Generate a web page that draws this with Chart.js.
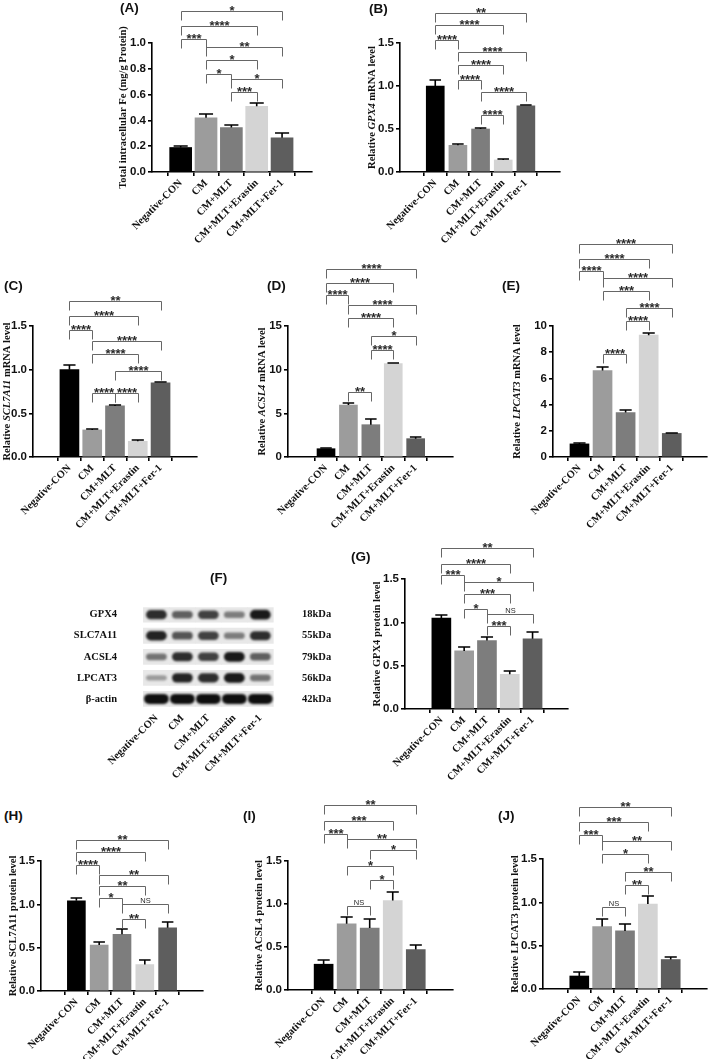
<!DOCTYPE html>
<html>
<head>
<meta charset="utf-8">
<script src="https://cdn.jsdelivr.net/npm/chart.js@4.4.1/dist/chart.umd.min.js"></script>
<style>
  body { margin: 0; background: #fff; }
  #fig { position: relative; width: 709px; height: 1059px; overflow: hidden; background: #fff; }
  #fig canvas { position: absolute; }
  .tag { position: absolute; z-index: 5; font: bold 13.5px "Liberation Sans", Arial, sans-serif; color: #111; }
</style>
</head>
<body>
<div id="fig"></div>
<script>
const groups = ["Negative-CON", "CM", "CM+MLT", "CM+MLT+Erastin", "CM+MLT+Fer-1"];
const barColors = ["#000000", "#9c9c9c", "#7d7d7d", "#d4d4d4", "#5e5e5e"];

// tick values
const feTicks = [0, 0.2, 0.4, 0.6, 0.8, 1.0];
const relTicks = [0, 0.5, 1.0, 1.5];
const acsl4Ticks = [0, 5, 10, 15];
const lpcat3Ticks = [0, 2, 4, 6, 8, 10];

// (A) total intracellular Fe
const feMean = [0.19, 0.42, 0.345, 0.51, 0.265];
const feSd = [0.012, 0.03, 0.018, 0.025, 0.035];
const feSig = [[0, 4, 1.25, "*"], [0, 3, 1.13, "****"], [0, 1, 1.03, "***"], [1, 4, 0.97, "**"],
  [1, 3, 0.87, "*"], [1, 2, 0.76, "*"], [2, 4, 0.72, "*"], [2, 3, 0.62, "***"]];

// (B) GPX4 mRNA
const gpx4Mean = [1.0, 0.31, 0.5, 0.14, 0.77];
const gpx4Sd = [0.065, 0.015, 0.015, 0.01, 0.01];
const gpx4Sig = [[0, 4, 1.85, "**"], [0, 3, 1.71, "****"], [0, 1, 1.54, "****"], [1, 4, 1.4, "****"],
  [1, 3, 1.24, "****"], [1, 2, 1.07, "****"], [2, 4, 0.93, "****"], [2, 3, 0.66, "****"]];

// (C) SCL7A11 mRNA
const slcMean = [1.0, 0.31, 0.585, 0.18, 0.85];
const slcSd = [0.05, 0.01, 0.01, 0.01, 0.01];
const slcSig = [[0, 4, 1.79, "**"], [0, 3, 1.61, "****"], [0, 1, 1.45, "****"], [1, 4, 1.33, "****"],
  [1, 3, 1.18, "****"], [2, 4, 0.98, "****"], [1, 2, 0.73, "****"], [2, 3, 0.73, "****"]];

// (D) ACSL4 mRNA
const acslMean = [0.95, 5.95, 3.7, 10.7, 2.1];
const acslSd = [0.1, 0.25, 0.6, 0.1, 0.15];
const acslSig = [[0, 4, 21.5, "****"], [0, 3, 19.9, "****"], [0, 1, 18.5, "****"], [1, 4, 17.4, "****"],
  [1, 3, 15.95, "****"], [2, 4, 13.8, "*"], [2, 3, 12.3, "****"], [1, 2, 7.5, "**"]];

// (E) LPCAT3 mRNA
const lpcMean = [1.0, 6.6, 3.4, 9.3, 1.8];
const lpcSd = [0.05, 0.3, 0.15, 0.15, 0.05];
const lpcSig = [[0, 4, 16.25, "****"], [0, 3, 15.1, "****"], [0, 1, 14.2, "****"], [1, 4, 13.65, "****"],
  [1, 3, 12.7, "***"], [2, 4, 11.4, "****"], [2, 3, 10.4, "****"], [1, 2, 7.9, "****"]];

// (G) GPX4 protein
const gpx4ProtMean = [1.05, 0.67, 0.79, 0.4, 0.81];
const gpx4ProtSd = [0.03, 0.05, 0.04, 0.04, 0.08];
const gpx4ProtSig = [[0, 4, 1.86, "**"], [0, 3, 1.67, "****"], [0, 1, 1.55, "***"], [1, 4, 1.46, "*"],
  [1, 3, 1.33, "***"], [1, 2, 1.15, "*"], [2, 4, 1.1, "NS"], [2, 3, 0.96, "***"]];

// (H) SCL7A11 protein
const slcProtMean = [1.04, 0.53, 0.655, 0.305, 0.73];
const slcProtSd = [0.03, 0.04, 0.06, 0.05, 0.065];
const slcProtSig = [[0, 4, 1.74, "**"], [0, 3, 1.6, "****"], [0, 1, 1.45, "****"], [1, 4, 1.34, "**"],
  [1, 3, 1.21, "**"], [1, 2, 1.07, "*"], [2, 4, 1.0, "NS"], [2, 3, 0.83, "**"]];

// (I) ACSL4 protein
const acslProtMean = [0.3, 0.77, 0.72, 1.04, 0.47];
const acslProtSd = [0.05, 0.08, 0.11, 0.1, 0.05];
const acslProtSig = [[0, 4, 2.15, "**"], [0, 3, 1.97, "***"], [0, 1, 1.81, "***"], [1, 4, 1.75, "**"],
  [2, 4, 1.63, "*"], [1, 3, 1.44, "*"], [2, 3, 1.28, "*"], [1, 2, 0.98, "NS"]];

// (J) LPCAT3 protein
const lpcProtMean = [0.15, 0.72, 0.67, 0.98, 0.34];
const lpcProtSd = [0.05, 0.09, 0.08, 0.09, 0.035];
const lpcProtSig = [[0, 4, 2.1, "**"], [0, 3, 1.93, "***"], [0, 1, 1.78, "***"], [1, 4, 1.71, "**"],
  [1, 3, 1.56, "*"], [2, 4, 1.35, "**"], [2, 3, 1.2, "**"], [1, 2, 0.95, "NS"]];

// (F) western blot, band strength 0..1 per lane
const blotRows = ["GPX4", "SLC7A11", "ACSL4", "LPCAT3", "β-actin"];
const blotKda = ["18kDa", "55kDa", "79kDa", "56kDa", "42kDa"];
const blotGpx4 = [0.85, 0.6, 0.75, 0.45, 0.95];
const blotSlc7a11 = [0.9, 0.65, 0.75, 0.45, 0.85];
const blotAcsl4 = [0.5, 0.85, 0.75, 0.95, 0.6];
const blotLpcat3 = [0.3, 0.9, 0.85, 0.95, 0.5];
const blotActin = [1, 1, 1, 1, 1];

const SERIF = '"Liberation Serif", "Times New Roman", serif';
const SANS = '"Liberation Sans", Arial, sans-serif';
const fig = document.getElementById("fig");

const panels = [
  { tag: "(A)", mean: feMean, sd: feSd, sig: feSig, ticks: feTicks, dec: 1,
    title: [["Total intracellular Fe (mg/g Protein)", false]],
    left: 116, top: 0, plotLeft: 152, plotRight: 312, plotTop: 43, plotBottom: 172,
    xMin: -0.5, xMax: 4.55, bar: 22, titleX: 123, xH: 75, tagX: 120, tagY: 0 },
  { tag: "(B)", mean: gpx4Mean, sd: gpx4Sd, sig: gpx4Sig, ticks: relTicks, dec: 1,
    title: [["Relative ", false], ["GPX4", true], [" mRNA level", false]],
    left: 365, top: 0, plotLeft: 400, plotRight: 560, plotTop: 43, plotBottom: 172,
    xMin: -0.85, xMax: 4.8, bar: 18, titleX: 372, xH: 75, tagX: 369, tagY: 1 },
  { tag: "(C)", mean: slcMean, sd: slcSd, sig: slcSig, ticks: relTicks, dec: 1,
    title: [["Relative ", false], ["SCL7A11", true], [" mRNA level", false]],
    left: 0, top: 240, plotLeft: 33, plotRight: 197, plotTop: 326, plotBottom: 457,
    xMin: -0.88, xMax: 4.88, bar: 19, titleX: 7, xH: 75, tagX: 4, tagY: 278 },
  { tag: "(D)", mean: acslMean, sd: acslSd, sig: acslSig, ticks: acsl4Ticks, dec: 0,
    title: [["Relative ", false], ["ACSL4", true], [" mRNA level", false]],
    left: 255, top: 240, plotLeft: 288, plotRight: 453, plotTop: 326, plotBottom: 457,
    xMin: -0.96, xMax: 4.93, bar: 18, titleX: 262, xH: 75, tagX: 267, tagY: 278 },
  { tag: "(E)", mean: lpcMean, sd: lpcSd, sig: lpcSig, ticks: lpcat3Ticks, dec: 0,
    title: [["Relative ", false], ["LPCAT3", true], [" mRNA level", false]],
    left: 510, top: 230, plotLeft: 553, plotRight: 707, plotTop: 326, plotBottom: 457,
    xMin: -0.48, xMax: 4.86, bar: 19, titleX: 517, xH: 75, tagX: 502, tagY: 278 },
  { tag: "(G)", mean: gpx4ProtMean, sd: gpx4ProtSd, sig: gpx4ProtSig, ticks: relTicks, dec: 1,
    title: [["Relative GPX4 protein level", false]],
    left: 370, top: 535, plotLeft: 405, plotRight: 568, plotTop: 579, plotBottom: 709,
    xMin: -0.88, xMax: 4.84, bar: 19, titleX: 377, xH: 75, tagX: 351, tagY: 549 },
  { tag: "(H)", mean: slcProtMean, sd: slcProtSd, sig: slcProtSig, ticks: relTicks, dec: 1,
    title: [["Relative SCL7A11 protein level", false]],
    left: 6, top: 825, plotLeft: 41, plotRight: 203, plotTop: 861, plotBottom: 991,
    xMin: -0.84, xMax: 4.84, bar: 18, titleX: 13, xH: 68, tagX: 4, tagY: 808 },
  { tag: "(I)", mean: acslProtMean, sd: acslProtSd, sig: acslProtSig, ticks: relTicks, dec: 1,
    title: [["Relative ACSL4 protein level", false]],
    left: 252, top: 793, plotLeft: 288, plotRight: 453, plotTop: 861, plotBottom: 990,
    xMin: -0.83, xMax: 4.9, bar: 19, titleX: 259, xH: 69, tagX: 243, tagY: 808 },
  { tag: "(J)", mean: lpcProtMean, sd: lpcProtSd, sig: lpcProtSig, ticks: relTicks, dec: 1,
    title: [["Relative LPCAT3 protein level", false]],
    left: 508, top: 793, plotLeft: 543, plotRight: 707, plotTop: 859, plotBottom: 989,
    xMin: -0.87, xMax: 4.87, bar: 19, titleX: 515, xH: 70, tagX: 498, tagY: 808 },
];

function addCanvas(left, top, width, height) {
  const c = document.createElement("canvas");
  c.width = width;
  c.height = height;
  c.style.left = left + "px";
  c.style.top = top + "px";
  c.style.width = width + "px";
  c.style.height = height + "px";
  fig.appendChild(c);
  return c;
}

function addTag(text, x, y) {
  const d = document.createElement("div");
  d.className = "tag";
  d.textContent = text;
  d.style.left = x + "px";
  d.style.top = y + "px";
  fig.appendChild(d);
}

// error bars (upper only), significance brackets, and the y title
function sigPlugin(p) {
  return {
    id: "sig",
    afterDraw(chart) {
      const { ctx, chartArea, scales: { x, y } } = chart;
      ctx.save();
      ctx.strokeStyle = "#000";
      ctx.lineWidth = 1.6;
      p.mean.forEach((m, i) => {
        const cx = x.getPixelForValue(i);
        const y1 = y.getPixelForValue(m);
        const y2 = Math.round(y.getPixelForValue(m + p.sd[i]));
        const hw = p.bar * 0.32;
        ctx.beginPath();
        ctx.moveTo(cx, y1);
        ctx.lineTo(cx, y2);
        ctx.moveTo(cx - hw, y2);
        ctx.lineTo(cx + hw, y2);
        ctx.stroke();
      });

      ctx.strokeStyle = "#666";
      ctx.lineWidth = 1;
      ctx.fillStyle = "#2a2a2a";
      ctx.textAlign = "center";
      ctx.textBaseline = "alphabetic";
      p.sig.forEach(([a, b, level, label]) => {
        const xa = Math.round(x.getPixelForValue(a)) + 0.5;
        const xb = Math.round(x.getPixelForValue(b)) + 0.5;
        const yy = Math.round(y.getPixelForValue(level)) + 0.5;
        ctx.beginPath();
        ctx.moveTo(xa, yy + 9);
        ctx.lineTo(xa, yy);
        ctx.lineTo(xb, yy);
        ctx.lineTo(xb, yy + 9);
        ctx.stroke();
        if (label === "NS") {
          ctx.font = `7.5px ${SANS}`;
          ctx.fillText(label, (xa + xb) / 2, yy - 2);
        } else {
          ctx.font = `bold 13px ${SANS}`;
          ctx.fillText(label, (xa + xb) / 2, yy + 3.5);
        }
      });

      // y axis title, gene names in italics
      const tx = p.titleX - p.left;
      const ty = (chartArea.top + chartArea.bottom) / 2;
      ctx.translate(tx, ty);
      ctx.rotate(-Math.PI / 2);
      ctx.fillStyle = "#111";
      ctx.textAlign = "left";
      ctx.textBaseline = "middle";
      const fonts = p.title.map(([, it]) => `${it ? "italic " : ""}bold 10.5px ${SERIF}`);
      let total = 0;
      p.title.forEach(([t], k) => {
        ctx.font = fonts[k];
        total += ctx.measureText(t).width;
      });
      let cx = -total / 2;
      p.title.forEach(([t], k) => {
        ctx.font = fonts[k];
        ctx.fillText(t, cx, 0);
        cx += ctx.measureText(t).width;
      });
      ctx.restore();
    },
  };
}

const axisLine = { color: "#000", width: 1.6 };
const tickGrid = { drawOnChartArea: false, drawTicks: true, tickLength: 4, color: "#000", lineWidth: 1.6 };

panels.forEach((p) => {
  const width = p.plotRight + 2 - p.left;
  const height = p.plotBottom + p.xH - p.top;
  const canvas = addCanvas(p.left, p.top, width, height);
  new Chart(canvas.getContext("2d"), {
    type: "bar",
    data: {
      datasets: [
        {
          data: p.mean.map((v, i) => ({ x: i, y: v })),
          backgroundColor: barColors,
          borderWidth: 0,
          barThickness: p.bar,
        },
      ],
    },
    options: {
      responsive: false,
      devicePixelRatio: 1,
      animation: false,
      layout: { padding: { top: p.plotTop - p.top, right: 2, left: 0, bottom: 0 } },
      plugins: { legend: { display: false }, tooltip: { enabled: false } },
      scales: {
        x: {
          type: "linear",
          min: p.xMin,
          max: p.xMax,
          afterBuildTicks: (a) => {
            a.ticks = groups.map((_, i) => ({ value: i }));
          },
          afterFit: (a) => {
            a.height = p.xH;
            a.paddingLeft = 0;
            a.paddingRight = 0;
          },
          ticks: {
            autoSkip: false,
            minRotation: 45,
            maxRotation: 45,
            padding: 1,
            color: "#111",
            font: { family: SERIF, weight: "bold", size: 10.5 },
            callback: (v) => groups[v],
          },
          grid: tickGrid,
          border: axisLine,
        },
        y: {
          min: 0,
          max: p.ticks[p.ticks.length - 1],
          afterBuildTicks: (a) => {
            a.ticks = p.ticks.map((v) => ({ value: v }));
          },
          afterFit: (a) => {
            a.width = p.plotLeft - p.left;
          },
          ticks: {
            padding: 2,
            color: "#111",
            font: { family: SANS, weight: "bold", size: 11.5 },
            callback: (v) => v.toFixed(p.dec),
          },
          grid: tickGrid,
          border: axisLine,
        },
      },
    },
    plugins: [sigPlugin(p)],
  });
  addTag(p.tag, p.tagX, p.tagY);
});

// (F) western blot
const blurPlugin = {
  id: "blur",
  beforeDatasetDraw(chart, args) {
    if (chart.data.datasets[args.index].blur) {
      chart.ctx.save();
      chart.ctx.filter = "blur(1.3px)";
    }
  },
  afterDatasetDraw(chart, args) {
    if (chart.data.datasets[args.index].blur) chart.ctx.restore();
  },
};

const blotLevels = [blotGpx4, blotSlc7a11, blotAcsl4, blotLpcat3, blotActin];
const blotSets = [];
blotRows.forEach((_, r) => {
  blotSets.push({
    data: groups.map((_, i) => ({ x: i, y: [r - 0.36, r + 0.36] })),
    backgroundColor: "#e8e8e8",
    barPercentage: 1,
    categoryPercentage: 1,
    grouped: false,
    order: 2,
  });
});
blotLevels.forEach((levels, r) => {
  blotSets.push({
    data: levels.map((v, i) => ({ x: i, y: [r - (0.08 + 0.16 * v), r + (0.08 + 0.16 * v)] })),
    backgroundColor: levels.map((v) => {
      const g = Math.round(215 - 200 * v);
      return `rgb(${g},${g},${g})`;
    }),
    barPercentage: r === 4 ? 0.95 : 0.8,
    categoryPercentage: 1,
    borderRadius: 5,
    borderSkipped: false,
    grouped: false,
    blur: true,
    order: 1,
  });
});

const blotFont = { family: SERIF, weight: "bold", size: 10.5 };
const blotCanvas = addCanvas(57, 590, 284, 193);
new Chart(blotCanvas.getContext("2d"), {
  type: "bar",
  data: { datasets: blotSets },
  options: {
    responsive: false,
    devicePixelRatio: 1,
    animation: false,
    layout: { padding: { top: 7, right: 0, left: 0, bottom: 0 } },
    plugins: { legend: { display: false }, tooltip: { enabled: false } },
    scales: {
      x: {
        type: "linear",
        min: -0.5,
        max: 4.55,
        afterBuildTicks: (a) => {
          a.ticks = groups.map((_, i) => ({ value: i }));
        },
        afterFit: (a) => {
          a.height = 75;
          a.paddingLeft = 0;
          a.paddingRight = 0;
        },
        ticks: {
          autoSkip: false,
          minRotation: 45,
          maxRotation: 45,
          padding: 4,
          color: "#111",
          font: blotFont,
          callback: (v) => groups[v],
        },
        grid: { display: false, drawTicks: false },
        border: { display: false },
      },
      y: {
        reverse: true,
        min: -0.35,
        max: 4.43,
        afterBuildTicks: (a) => {
          a.ticks = blotRows.map((_, i) => ({ value: i }));
        },
        afterFit: (a) => {
          a.width = 70;
        },
        ticks: { padding: 10, color: "#111", font: blotFont, callback: (v) => blotRows[v] },
        grid: { display: false, drawTicks: false },
        border: { display: false },
      },
      y2: {
        position: "right",
        reverse: true,
        min: -0.35,
        max: 4.43,
        afterBuildTicks: (a) => {
          a.ticks = blotKda.map((_, i) => ({ value: i }));
        },
        afterFit: (a) => {
          a.width = 50;
        },
        ticks: { padding: 11, color: "#111", font: blotFont, callback: (v) => blotKda[v] },
        grid: { display: false, drawTicks: false },
        border: { display: false },
      },
    },
  },
  plugins: [blurPlugin],
});
addTag("(F)", 210, 570);
</script>
</body>
</html>
